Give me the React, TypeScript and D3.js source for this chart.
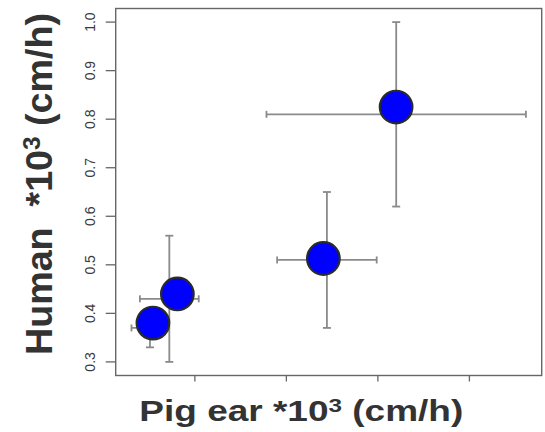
import React from "react";
import * as d3 from "d3";

// Error-bar centres (means) and spreads, in data units (×10³ cm/h)
const pigEar = [0.1019, 0.1442, 0.4886, 0.640];
const pigEarErr = [0.0404, 0.0643, 0.1088, 0.2835];
const human = [0.37, 0.43, 0.51, 0.81];
const humanErr = [0.04, 0.13, 0.14, 0.19];
// Where the filled markers sit (slightly off the error-bar crossings in the original)
const markerX = [0.1084, 0.1618, 0.4809, 0.6398];
const markerY = [0.38, 0.44, 0.513, 0.825];

const yTicks = [0.3, 0.4, 0.5, 0.6, 0.7, 0.8, 0.9, 1.0];
const xTicks = [0.2, 0.4, 0.6, 0.8];

const W = 545;
const H = 432;
const plot = { left: 115.7, right: 541.7, top: 8.5, bottom: 375.5 };

function rRange(lo: number, hi: number): [number, number] {
  const pad = (hi - lo) * 0.04;
  return [lo - pad, hi + pad];
}

export default function App() {
  const xLo = d3.min(pigEar.map((v, i) => v - pigEarErr[i]))!;
  const xHi = d3.max(pigEar.map((v, i) => v + pigEarErr[i]))!;
  const yLo = d3.min(human.map((v, i) => v - humanErr[i]))!;
  const yHi = d3.max(human.map((v, i) => v + humanErr[i]))!;

  const x = d3.scaleLinear().domain(rRange(xLo, xHi)).range([plot.left, plot.right]);
  const y = d3.scaleLinear().domain(rRange(yLo, yHi)).range([plot.bottom, plot.top]);

  const barColor = "#8a8a8a";
  const capH = 4;
  const capV = 3.5;

  return (
    <svg
      width={W}
      height={H}
      style={{ position: "absolute", left: 0, top: 0, background: "#fff" }}
      fontFamily="Liberation Sans, Arial, Helvetica, sans-serif"
    >
      <rect x={0} y={0} width={W} height={H} fill="#fff" />
      {/* plot box */}
      <rect
        x={plot.left}
        y={plot.top}
        width={plot.right - plot.left}
        height={plot.bottom - plot.top}
        fill="none"
        stroke="#666"
        strokeWidth={1.4}
      />
      {/* y axis ticks + labels */}
      {yTicks.map((t) => (
        <g key={"y" + t}>
          <line x1={plot.left} x2={plot.left - 10} y1={y(t)} y2={y(t)} stroke="#666" strokeWidth={1.3} />
          <text
            transform={`translate(95,${y(t)}) rotate(-90)`}
            textAnchor="middle"
            fontSize={14}
            fill="#3a3a3a"
          >
            {t.toFixed(1)}
          </text>
        </g>
      ))}
      {/* x axis ticks (no labels in the original) */}
      {xTicks.map((t) => (
        <line
          key={"x" + t}
          x1={x(t)}
          x2={x(t)}
          y1={plot.bottom}
          y2={plot.bottom + 6}
          stroke="#666"
          strokeWidth={1.3}
        />
      ))}
      {/* error bars */}
      {pigEar.map((xv, i) => {
        const yv = human[i];
        const x0 = x(xv - pigEarErr[i]);
        const x1 = x(xv + pigEarErr[i]);
        const y0 = y(yv - humanErr[i]);
        const y1 = y(yv + humanErr[i]);
        return (
          <g key={"e" + i} stroke={barColor} strokeWidth={1.8} fill="none">
            <line x1={x0} x2={x1} y1={y(yv)} y2={y(yv)} />
            <line x1={x0} x2={x0} y1={y(yv) - capV} y2={y(yv) + capV} />
            <line x1={x1} x2={x1} y1={y(yv) - capV} y2={y(yv) + capV} />
            <line x1={x(xv)} x2={x(xv)} y1={y0} y2={y1} />
            <line x1={x(xv) - capH} x2={x(xv) + capH} y1={y0} y2={y0} />
            <line x1={x(xv) - capH} x2={x(xv) + capH} y1={y1} y2={y1} />
          </g>
        );
      })}
      {/* markers */}
      {markerX.map((mx, i) => (
        <circle
          key={"m" + i}
          cx={x(mx)}
          cy={y(markerY[i])}
          r={16.3}
          fill="#0000ff"
          stroke="#2a2a2a"
          strokeWidth={2.2}
        />
      ))}
      {/* axis titles */}
      <text
        x={301.3}
        y={420.5}
        textAnchor="middle"
        fontSize={29}
        fontWeight="bold"
        fill="#333"
        textLength={324}
        lengthAdjust="spacingAndGlyphs"
      >
        Pig ear *10
        <tspan fontSize={19} dy={-9}>3</tspan>
        <tspan dy={9}> (cm/h)</tspan>
      </text>
      <text
        transform="translate(52,184) rotate(-90)"
        textAnchor="middle"
        fontSize={37}
        fontWeight="bold"
        fill="#333"
        textLength={342}
        lengthAdjust="spacingAndGlyphs"
        style={{ whiteSpace: "pre" }}
      >
        {"Human  *10"}
        <tspan fontSize={24} dy={-12}>3</tspan>
        <tspan dy={12}>{" (cm/h)"}</tspan>
      </text>
    </svg>
  );
}
